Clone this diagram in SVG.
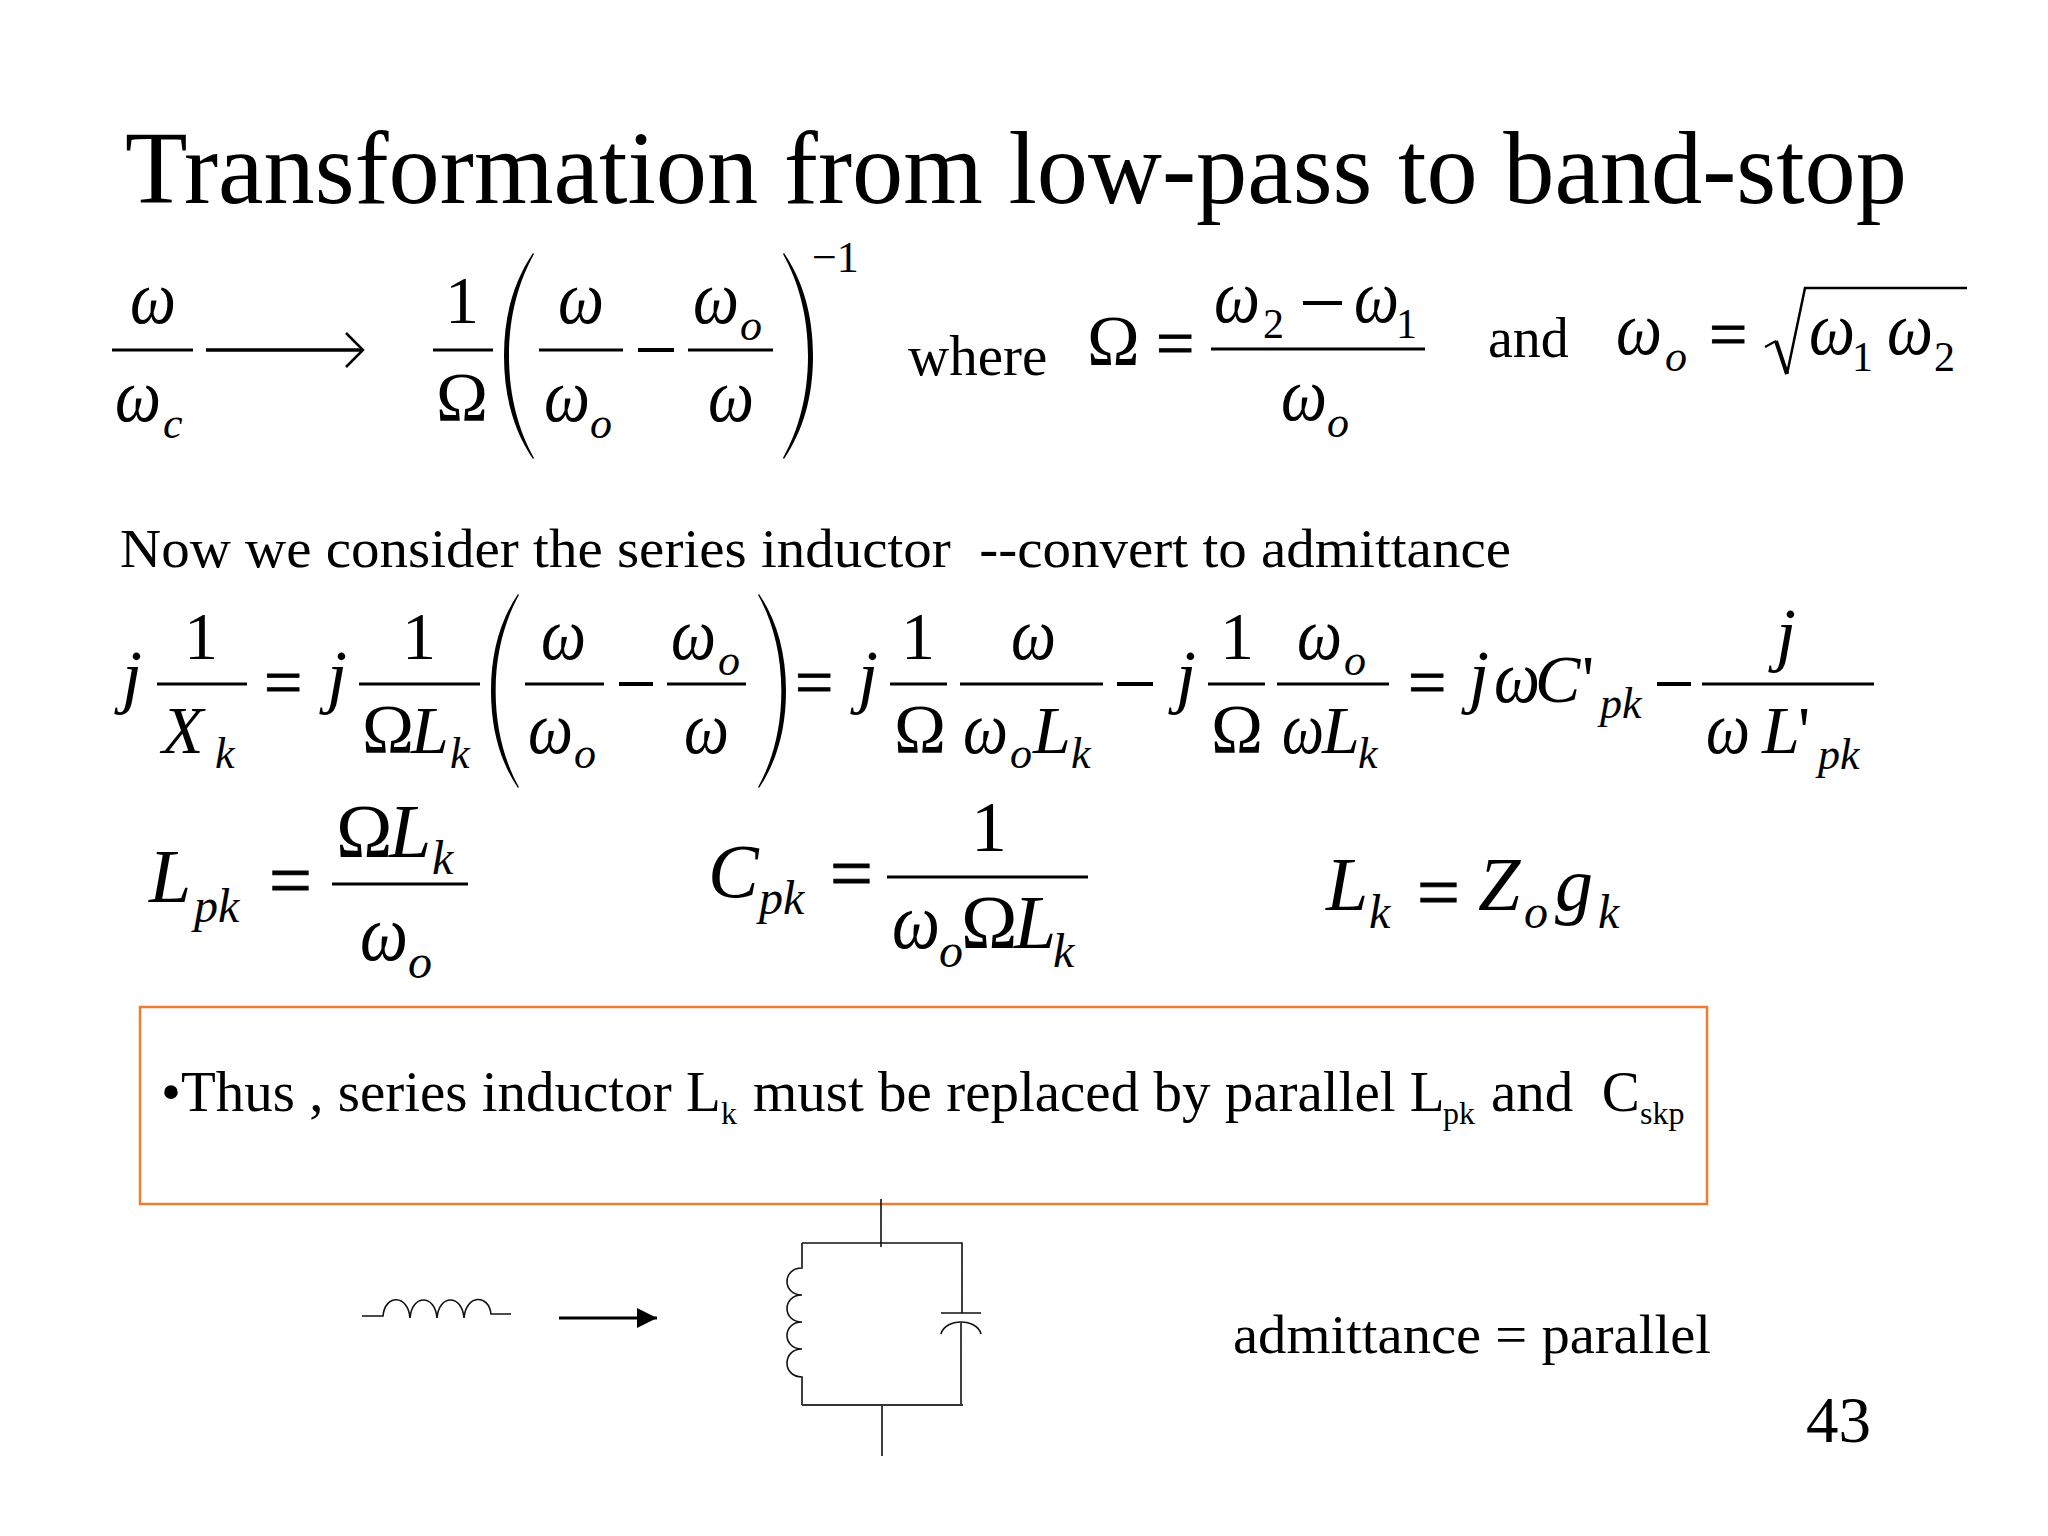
<svg xmlns="http://www.w3.org/2000/svg" width="2048" height="1536" viewBox="0 0 2048 1536">
<style>
text{font-family:"Liberation Serif","Times New Roman",serif;fill:#000;white-space:pre}
.i{font-style:italic}
.a{font-size:72px}.b{font-size:44px}.c{font-size:68px}.d{font-size:42px}.e{font-size:76px}.f{font-size:48px}
.t{font-size:54px}
.o1{font-size:77px;font-style:italic}.o2{font-size:73px;font-style:italic}.o3{font-size:81px;font-style:italic}
.q{stroke:#000;stroke-width:.9}
.bar{stroke:#000;stroke-width:3;fill:none}
.bold{stroke:#000;stroke-width:4;fill:none}
.w{stroke:#111;stroke-width:1.6;fill:none}
</style>
<defs>
<path id="lp" d="M29,0 C10,28 0,62 0,103 C0,144 10,178 29,206 L30,205 C15,178 5,144 5,103 C5,62 15,28 30,1 Z"/>
<marker id="ah" markerUnits="userSpaceOnUse" markerWidth="21" markerHeight="21" refX="20" refY="10" orient="auto"><path d="M0,0 L20,10 L0,20 Z"/></marker>
</defs>
<rect width="2048" height="1536" fill="#fff"/>
<g id="title"><text x="125" y="203" font-size="104" textLength="1782" lengthAdjust="spacingAndGlyphs">Transformation from low-pass to band-stop</text></g>

<g id="eq1">
<text class="o1" x="130" y="323" textLength="46" lengthAdjust="spacingAndGlyphs">ω</text><path class="bar" d="M112,350H193"/>
<text class="o1" x="115" y="421" textLength="46" lengthAdjust="spacingAndGlyphs">ω</text><text class="b i" x="163" y="438">c</text>
<path d="M206,350H362" stroke="#000" stroke-width="3.5" fill="none"/><path d="M346,333L363,350L346,367" stroke="#000" stroke-width="2.5" fill="none"/>
<text class="c" x="445" y="323">1</text><path class="bar" d="M433,350H493"/><text class="c" x="436" y="421" style="font-size:70px">Ω</text>
<use href="#lp" transform="translate(504,253)"/><use href="#lp" transform="translate(813,253) scale(-1,1)"/>
<text class="o1" x="558" y="323" textLength="46" lengthAdjust="spacingAndGlyphs">ω</text><path class="bar" d="M539,350H623"/>
<text class="o1" x="544" y="421" textLength="46" lengthAdjust="spacingAndGlyphs">ω</text><text class="b i" x="590" y="438">o</text>
<path class="bold" d="M638,350H674"/>
<text class="o1" x="693" y="323" textLength="46" lengthAdjust="spacingAndGlyphs">ω</text><text class="b i" x="740" y="340">o</text><path class="bar" d="M688,350H773"/>
<text class="o1" x="708" y="421" textLength="46" lengthAdjust="spacingAndGlyphs">ω</text>
<text class="b" x="812" y="272">−1</text>
<text x="908" y="375" style="font-size:57px">where</text>
<text class="c" x="1087" y="365" style="font-size:71px">Ω</text><text class="c q" x="1156" y="366">=</text>
<text class="o1" x="1214" y="322" textLength="46" lengthAdjust="spacingAndGlyphs">ω</text><text class="d" x="1263" y="338">2</text>
<path class="bold" d="M1303,303H1342"/>
<text class="o1" x="1354" y="322" textLength="45" lengthAdjust="spacingAndGlyphs">ω</text><text class="d" x="1396" y="338">1</text>
<path class="bar" d="M1211,349H1425"/>
<text class="o1" x="1281" y="420" textLength="46" lengthAdjust="spacingAndGlyphs">ω</text><text class="b i" x="1327" y="437">o</text>
<text x="1488" y="357" style="font-size:56px">and</text>
<text class="o1" x="1616" y="354" textLength="46" lengthAdjust="spacingAndGlyphs">ω</text><text class="b i" x="1665" y="371">o</text>
<text class="c q" x="1709" y="357">=</text>
<path d="M1765,347L1776,341" stroke="#000" stroke-width="2" fill="none"/><path d="M1776,341L1787,374" stroke="#000" stroke-width="4" fill="none"/><path d="M1787,374L1805,288H1967" stroke="#000" stroke-width="2.5" fill="none"/>
<text class="o1" x="1809" y="354" textLength="46" lengthAdjust="spacingAndGlyphs">ω</text><text class="d" x="1852" y="371">1</text>
<text class="o1" x="1887" y="354" textLength="46" lengthAdjust="spacingAndGlyphs">ω</text><text class="d" x="1934" y="371">2</text>
</g>

<g id="line2"><text x="120" y="567" font-size="54" style="font-size:54px" textLength="1391" lengthAdjust="spacingAndGlyphs">Now we consider the series inductor  --convert to admittance</text></g>

<g id="eq2">
<text class="c i" x="122" y="700" style="font-size:72px">j</text>
<text class="c" x="184" y="659">1</text><path class="bar" d="M157,684H247"/>
<text class="c i" x="162" y="753">X</text><text class="b i" x="215" y="768">k</text>
<text class="c q" x="264" y="705">=</text>
<text class="c i" x="327" y="700" style="font-size:72px">j</text>
<text class="c" x="402" y="659">1</text><path class="bar" d="M359,684H480"/>
<text class="c" x="362" y="753" style="font-size:70px">Ω</text><text class="c i" x="411" y="753">L</text><text class="b i" x="450" y="768">k</text>
<use href="#lp" transform="translate(491,594) scale(.93,.942)"/><use href="#lp" transform="translate(786,594) scale(-.93,.942)"/>
<text class="o2" x="541" y="659" textLength="45" lengthAdjust="spacingAndGlyphs">ω</text><path class="bar" d="M525,684H604"/>
<text class="o2" x="528" y="753" textLength="45" lengthAdjust="spacingAndGlyphs">ω</text><text class="b i" x="574" y="768">o</text>
<path class="bold" d="M619,684H653"/>
<text class="o2" x="671" y="659" textLength="45" lengthAdjust="spacingAndGlyphs">ω</text><text class="b i" x="718" y="675">o</text><path class="bar" d="M667,684H746"/>
<text class="o2" x="684" y="753" textLength="45" lengthAdjust="spacingAndGlyphs">ω</text>
<text class="c q" x="795" y="705">=</text>
<text class="c i" x="858" y="700" style="font-size:72px">j</text>
<text class="c" x="901" y="659">1</text><path class="bar" d="M890,684H947"/>
<text class="c" x="894" y="753" style="font-size:70px">Ω</text>
<text class="o2" x="1011" y="659" textLength="45" lengthAdjust="spacingAndGlyphs">ω</text><path class="bar" d="M960,684H1103"/>
<text class="o2" x="963" y="753" textLength="45" lengthAdjust="spacingAndGlyphs">ω</text><text class="b i" x="1010" y="768">o</text><text class="c i" x="1033" y="753">L</text><text class="b i" x="1071" y="768">k</text>
<path class="bold" d="M1117,684H1153"/>
<text class="c i" x="1176" y="700" style="font-size:72px">j</text>
<text class="c" x="1220" y="659">1</text><path class="bar" d="M1208,684H1265"/>
<text class="c" x="1211" y="753" style="font-size:70px">Ω</text>
<text class="o2" x="1297" y="659" textLength="45" lengthAdjust="spacingAndGlyphs">ω</text><text class="b i" x="1344" y="675">o</text><path class="bar" d="M1277,684H1389"/>
<text class="o2" x="1282" y="753" textLength="42" lengthAdjust="spacingAndGlyphs">ω</text><text class="c i" x="1322" y="753">L</text><text class="b i" x="1358" y="768">k</text>
<text class="c q" x="1408" y="705">=</text>
<text class="c i" x="1469" y="700" style="font-size:72px">j</text>
<text class="o2" x="1494" y="702" textLength="46" lengthAdjust="spacingAndGlyphs">ω</text><text class="c i" x="1535" y="702">C</text><text class="c" x="1582" y="702">'</text>
<text class="b i" x="1600" y="718">pk</text>
<path class="bold" d="M1657,684H1691"/>
<path class="bar" d="M1702,684H1874"/>
<text class="c i" x="1776" y="658" style="font-size:72px">j</text>
<text class="o2" x="1706" y="753" textLength="44" lengthAdjust="spacingAndGlyphs">ω</text><text class="c i" x="1762" y="753">L</text><text class="c" x="1798" y="753">'</text>
<text class="b i" x="1818" y="769">pk</text>
</g>

<g id="eq3">
<text class="e i" x="149" y="902">L</text><text class="f i" x="194" y="922">pk</text>
<text class="e q" x="269" y="906">=</text>
<path class="bar" d="M332,884H468"/>
<text class="e" x="336" y="857">Ω</text><text class="e i" x="389" y="857">L</text><text class="f i" x="432" y="874">k</text>
<text class="o3" x="360" y="960" textLength="48" lengthAdjust="spacingAndGlyphs">ω</text><text class="f i" x="408" y="978">o</text>
</g>
<g id="eq4">
<text class="e i" x="708" y="897">C</text><text class="f i" x="759" y="914">pk</text>
<text class="e q" x="830" y="899">=</text>
<path class="bar" d="M887,877H1088"/>
<text x="971" y="851" style="font-size:72px">1</text>
<text class="o3" x="892" y="948" textLength="48" lengthAdjust="spacingAndGlyphs">ω</text><text class="f i" x="939" y="967">o</text><text class="e" x="961" y="948">Ω</text><text class="e i" x="1014" y="948">L</text><text class="f i" x="1053" y="967">k</text>
</g>
<g id="eq5">
<text class="e i" x="1326" y="910">L</text><text class="f i" x="1369" y="928">k</text>
<text class="e q" x="1417" y="918">=</text>
<text class="e i" x="1478" y="910">Z</text><text class="f i" x="1524" y="928">o</text>
<text class="e i" x="1555" y="910">g</text><text class="f i" x="1598" y="928">k</text>
</g>

<g id="callout">
<rect x="140" y="1007" width="1567" height="197" fill="none" stroke="#ED7D31" stroke-width="2.5"/>
<text y="1111" style="font-size:57px"><tspan x="161">•Thus , series inductor L</tspan><tspan x="721" y="1124" style="font-size:32px">k</tspan><tspan x="753" y="1111">must be replaced by parallel L</tspan><tspan x="1443" y="1124" style="font-size:32px">pk</tspan><tspan x="1491" y="1111">and  C</tspan><tspan x="1640" y="1124" style="font-size:32px">skp</tspan></text>
</g>

<g id="connectors">
<path class="w" d="M362,1316H383C385,1294 408,1294 410,1318C412,1294 435,1294 437,1318C439,1294 462,1294 464,1318C466,1294 489,1294 491,1314H511"/>
<path d="M559,1318H657" stroke="#000" stroke-width="3" fill="none" marker-end="url(#ah)"/>
<path class="w" d="M881,1199V1247M802,1243H962V1313M941,1313H981M941,1334C945,1318 977,1318 981,1334M961,1323V1405M802,1243V1268C782,1268 782,1295 802,1295C782,1295 782,1322 802,1322C782,1322 782,1349 802,1349C782,1349 782,1377 802,1377V1405M882,1405V1456"/>
<path d="M802,1405H963" stroke="#333" stroke-width="2.2" fill="none"/>
</g>

<g id="caption"><text x="1233" y="1353" style="font-size:54px" textLength="478" lengthAdjust="spacingAndGlyphs">admittance = parallel</text></g>
<g id="page"><text x="1806" y="1442" style="font-size:65px">43</text></g>
</svg>
